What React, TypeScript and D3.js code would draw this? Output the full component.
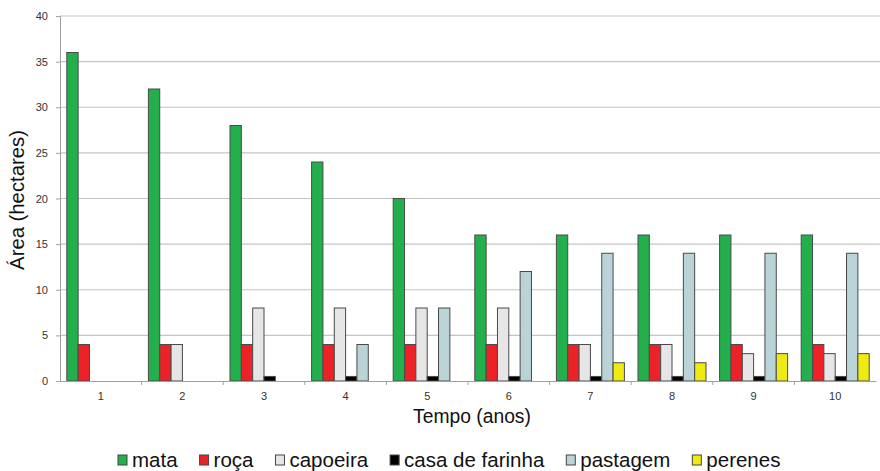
import React, { useEffect, useRef } from "react";
import * as d3 from "d3";

const categories = ["1", "2", "3", "4", "5", "6", "7", "8", "9", "10"];
const seriesNames = ["mata", "roça", "capoeira", "casa de farinha", "pastagem", "perenes"];
const mata = [36, 32, 28, 24, 20, 16, 16, 16, 16, 16];
const roca = [4, 4, 4, 4, 4, 4, 4, 4, 4, 4];
const capoeira = [0, 4, 8, 8, 8, 8, 4, 4, 3, 3];
const casaDeFarinha = [0, 0, 0.5, 0.5, 0.5, 0.5, 0.5, 0.5, 0.5, 0.5];
const pastagem = [0, 0, 0, 4, 8, 12, 14, 14, 14, 14];
const perenes = [0, 0, 0, 0, 0, 0, 2, 2, 3, 3];
const yTicks = [0, 5, 10, 15, 20, 25, 30, 35, 40];
const colors = ["#23b04c", "#ec2226", "#e6e6e6", "#000000", "#b9d3d6", "#eeea12"];

const W = 880, H = 471;
const M = { left: 60, right: 4, top: 16, bottom: 90 };

export default function App() {
  const ref = useRef<SVGSVGElement>(null);
  useEffect(() => {
    const svg = d3.select(ref.current);
    svg.selectAll("*").remove();
    const values = [mata, roca, capoeira, casaDeFarinha, pastagem, perenes];
    const x = d3.scaleBand().domain(categories).range([M.left, W - M.right]).paddingInner(0).paddingOuter(0);
    const inner = d3.scaleBand().domain(seriesNames).range([0, x.bandwidth()]).paddingOuter(0.6).paddingInner(0);
    const y = d3.scaleLinear().domain([0, 40]).range([H - M.bottom, M.top]);
    const font = "'Liberation Sans', Arial, sans-serif";

    // gridlines
    svg.append("g").selectAll("line").data(yTicks.filter(t => t > 0)).join("line")
      .attr("x1", M.left).attr("x2", W).attr("y1", d => y(d)).attr("y2", d => y(d))
      .attr("stroke", "#c4c4c4").attr("stroke-width", 1.2);

    // y axis
    const ya = svg.append("g").attr("transform", `translate(${M.left},0)`)
      .call(d3.axisLeft(y).tickValues(yTicks).tickSize(4).tickPadding(8));
    ya.select(".domain").attr("stroke", "#a0a0a0");
    ya.selectAll(".tick line").attr("stroke", "#a0a0a0");
    ya.selectAll("text").attr("font-family", font).attr("font-size", 11).attr("fill", "#333");

    // bars
    values.forEach((vals, si) => {
      svg.append("g").selectAll("rect").data(vals.map((v, i) => ({ v, c: categories[i] })).filter(d => d.v > 0)).join("rect")
        .attr("x", d => (x(d.c) as number) + (inner(seriesNames[si]) as number))
        .attr("width", inner.bandwidth())
        .attr("y", d => y(d.v))
        .attr("height", d => y(0) - y(d.v))
        .attr("fill", colors[si])
        .attr("stroke", "#4a4a4a").attr("stroke-width", 1);
    });

    // x axis
    const xa = svg.append("g").attr("transform", `translate(0,${y(0)})`)
      .call(d3.axisBottom(x).tickSize(0).tickPadding(11));
    xa.select(".domain").attr("stroke", "#a0a0a0");
    xa.selectAll("text").attr("font-family", font).attr("font-size", 11).attr("fill", "#333");
    svg.append("g").selectAll("line").data(categories.slice(1)).join("line")
      .attr("x1", d => x(d) as number).attr("x2", d => x(d) as number)
      .attr("y1", y(0)).attr("y2", y(0) + 4).attr("stroke", "#a0a0a0");

    // axis titles
    svg.append("text").attr("x", 472).attr("y", 423).attr("text-anchor", "middle")
      .attr("font-family", font).attr("font-size", 19.3).attr("fill", "#111").text("Tempo (anos)");
    svg.append("text").attr("transform", `translate(24,200) rotate(-90)`)
      .attr("text-anchor", "middle").attr("font-family", font).attr("font-size", 20.3).attr("fill", "#111")
      .text("Área (hectares)");

    // legend
    const lg = svg.append("g");
    let cx = 118;
    seriesNames.forEach((n, i) => {
      lg.append("rect").attr("x", cx).attr("y", 455).attr("width", 9).attr("height", 10)
        .attr("fill", colors[i]).attr("stroke", "#444").attr("stroke-width", 1);
      const t = lg.append("text").attr("x", cx + 14).attr("y", 467).attr("font-family", font)
        .attr("font-size", 20.5).attr("fill", "#111").text(n);
      const w = (t.node() as SVGTextElement).getComputedTextLength();
      cx += 14 + w + 22;
    });
  }, []);
  return (
    <svg ref={ref} width={W} height={H} style={{ display: "block", position: "absolute", left: 0, top: 0, background: "#fff" }} />
  );
}
